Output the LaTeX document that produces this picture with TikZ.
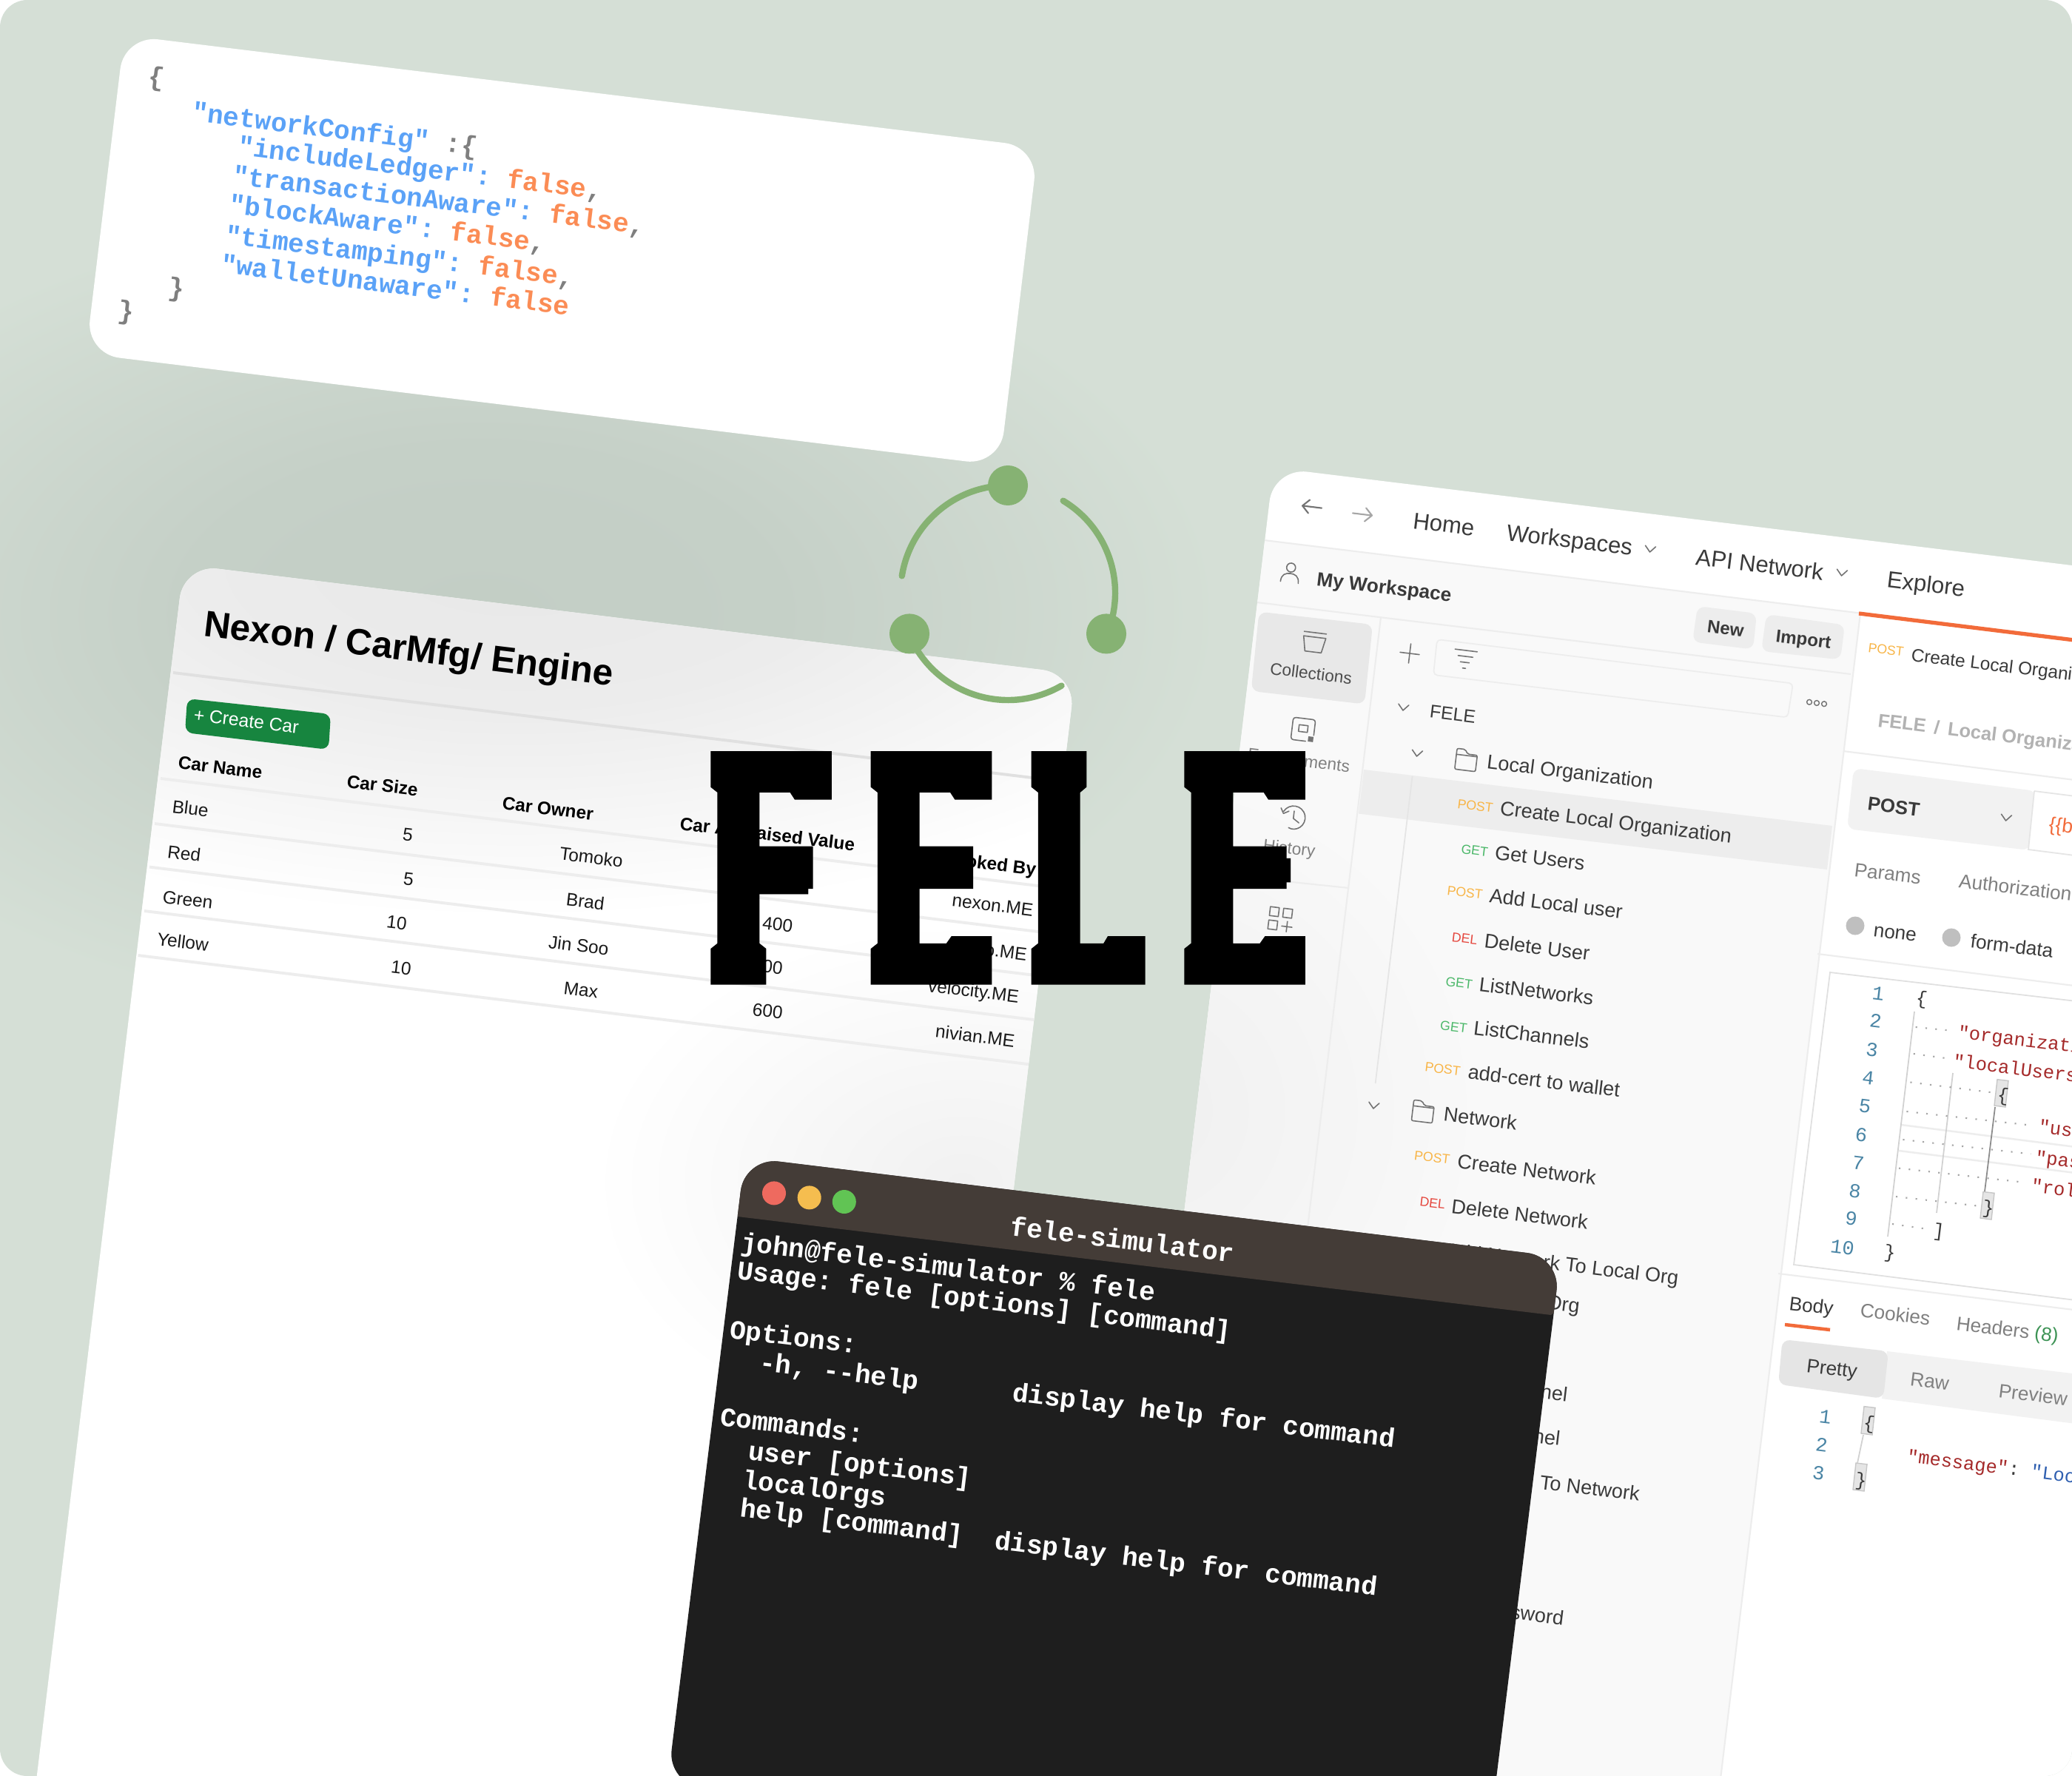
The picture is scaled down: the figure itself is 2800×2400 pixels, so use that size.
\documentclass[tikz,border=0pt]{standalone}
\usepackage{fontspec}
\setmainfont{Liberation Sans}
\setmonofont{Liberation Mono}
\definecolor{bgc}{HTML}{D5DFD6}
\definecolor{codeblue}{HTML}{5BA2F7}
\definecolor{codeorange}{HTML}{FB8C55}
\definecolor{codegray}{HTML}{7F7F7F}
\definecolor{btngreen}{HTML}{17853F}
\definecolor{leaf}{HTML}{86B273}
\definecolor{sep}{HTML}{EDEDED}
\definecolor{pmside}{HTML}{F9F9F9}
\definecolor{pmtext}{HTML}{3A3A3A}
\definecolor{pmgray}{HTML}{808080}
\definecolor{pmorange}{HTML}{F26B3A}
\definecolor{mpost}{HTML}{F8B547}
\definecolor{mget}{HTML}{4CB86A}
\definecolor{mdel}{HTML}{E5483F}
\definecolor{linenum}{HTML}{4A85A5}
\definecolor{jkey}{HTML}{A52A2A}
\definecolor{jstr}{HTML}{2F5FB0}
\definecolor{termtitle}{HTML}{443C37}
\definecolor{termbody}{HTML}{1E1E1E}
\definecolor{tlred}{HTML}{EE6A5F}
\definecolor{tlyel}{HTML}{F5BD4F}
\definecolor{tlgrn}{HTML}{61C454}
\pgfdeclareradialshading{bgblob}{\pgfpoint{0bp}{0bp}}{rgb(0bp)=(0.765,0.808,0.773); rgb(10bp)=(0.772,0.815,0.78); rgb(25bp)=(0.835,0.875,0.839); rgb(50bp)=(0.835,0.875,0.839)}
\pgfdeclareradialshading{tableblob}{\pgfpoint{0bp}{0bp}}{rgb(0bp)=(0.91,0.91,0.91); rgb(10bp)=(0.925,0.925,0.925); rgb(25bp)=(1,1,1); rgb(50bp)=(1,1,1)}
\pgfdeclareradialshading{tablelow}{\pgfpoint{0bp}{0bp}}{rgb(0bp)=(0.945,0.945,0.945); rgb(25bp)=(1,1,1); rgb(50bp)=(1,1,1)}
\pgfdeclareradialshading{sideblob}{\pgfpoint{0bp}{0bp}}{rgb(0bp)=(0.94,0.94,0.94); rgb(25bp)=(0.976,0.976,0.976); rgb(50bp)=(0.976,0.976,0.976)}
\tikzset{
  sk/.style={cm={1,-0.1224,0.12,1,(0,0)},inner sep=0pt,outer sep=0pt,anchor=base west},
  skew at/.style={cm={1,-0.1224,0.12,1,(#1)}},
  codefont/.style={font=\ttfamily\bfseries\fontsize{10.15}{12}\selectfont},
  codeb/.style={codefont,text=codeblue},
  codeo/.style={codefont,text=codeorange},
  codeg/.style={codefont,text=codegray},
  ttitle/.style={font=\bfseries\fontsize{14}{16}\selectfont,text=black},
  thead/.style={font=\bfseries\fontsize{6.9}{8}\selectfont,text=black},
  tcell/.style={font=\fontsize{6.9}{8}\selectfont,text=black!90},
  cent/.style={anchor=base},
  rgt/.style={anchor=base east},
  rowline/.style={draw=sep,line width=1.1pt},
  nav/.style={font=\fontsize{8.8}{10}\selectfont,text=pmtext},
  item/.style={font=\fontsize{7.65}{9}\selectfont,text=pmtext},
  meth/.style={font=\fontsize{5}{6}\selectfont},
  small/.style={font=\fontsize{6.4}{8}\selectfont,text=pmgray},
  pmbold/.style={font=\bfseries\fontsize{6.8}{8}\selectfont,text=pmtext},
  tab/.style={font=\fontsize{7.4}{9}\selectfont,text=pmgray},
  lnum/.style={font=\ttfamily\fontsize{7.6}{9}\selectfont,text=linenum,anchor=base},
  jk/.style={font=\ttfamily\fontsize{7.2}{9}\selectfont,text=jkey},
  jb/.style={font=\ttfamily\fontsize{7.2}{9}\selectfont,text=pmtext},
  pmsep/.style={draw=sep,line width=0.6pt},
  guide/.style={draw=black!18,line width=0.5pt},
  dots/.style={draw=black!35,line width=0.6pt,dash pattern=on 0.6pt off 3.2pt},
  bracebox/.style={fill=black!10,draw=black!22,line width=0.4pt},
  icon/.style={draw=black!55,line width=0.45pt,line cap=round,line join=round},
  term/.style={font=\ttfamily\bfseries\fontsize{10.2}{12}\selectfont,text=white},
  logoarc/.style={draw=leaf,line width=2.4pt,line cap=round},
  logodot/.style={fill=leaf,circle,minimum size=0.54cm,inner sep=0pt},
  tldot/.style={circle,minimum size=0.32cm,inner sep=0pt},
  fele/.style={fill=black}
}
\newcounter{nn}
\newcommand{\tl}[3]{\stepcounter{nn}\node[sk,#1] (n\thenn) at (#2) {#3};}
\newcommand{\chev}[1]{\begin{scope}[skew at={#1}]\draw[icon] (-7,-4)--(0,4)--(7,-4);\end{scope}}
\newcommand{\folder}[1]{\begin{scope}[skew at={#1}]\draw[icon,rounded corners=0.6pt] (-14,-14)--(-3,-14)--(1,-8)--(14,-8)--(14,14)--(-14,14)--cycle;\draw[icon] (-14,-6)--(14,-6);\end{scope}}
\begin{document}
\begin{tikzpicture}[x=0.01cm,y=-0.01cm]
\useasboundingbox (0,0) rectangle (2800,2400);
\fill[white] (0,0) rectangle (2800,2400);
\begin{scope}
\clip[rounded corners=10.5pt] (0,0) rectangle (2800,2400);
\fill[bgc] (0,0) rectangle (2800,2400);
\path[shading=bgblob] (-350,270) rectangle (1650,1390);

% ---- code card
\fill[white,rounded corners=13pt] (168,47.7)--(1403,198.7)--(1351,629)--(116,478)--cycle;
\tl{codeg}{199,115}{\{}
\tl{codeb}{258,163}{"networkConfig" \textcolor{codegray}{:\{}}
\tl{codeb}{320,209}{"includeLedger": \textcolor{codeorange}{false}\textcolor{codegray}{,}}
\tl{codeb}{313,248.5}{"transactionAware": \textcolor{codeorange}{false}\textcolor{codegray}{,}}
\tl{codeb}{308,288}{"blockAware": \textcolor{codeorange}{false}\textcolor{codegray}{,}}
\tl{codeb}{303,329}{"timestamping": \textcolor{codeorange}{false}\textcolor{codegray}{,}}
\tl{codeb}{297,368}{"walletUnaware": \textcolor{codeorange}{false}}
\tl{codeg}{226,399}{\}}
\tl{codeg}{158,430}{\}}

% ---- table card
\begin{scope}
\clip[rounded corners=13pt] (248.4,763)--(1453.4,910.7)--(1237,2711)--(30,2563)--cycle;
\fill[white] (0,700) rectangle (1500,2400);
\path[shading=tableblob] (-400,280) rectangle (1800,1240);
\path[shading=tablelow] (800,1245) rectangle (1800,1950);
\draw[draw=black!12,line width=1.1pt] (234,909)--++(1300,159);
\foreach \px/\py in {217/1052,209/1113,202/1171.6,195/1231,186.6/1291}{
  \draw[rowline] (\px,\py)--++(1300,159);}
\end{scope}
\tl{ttitle}{274,859}{Nexon / CarMfg/ Engine}
\fill[btngreen,rounded corners=3pt] (253,944)--(447,965)--(444,1013)--(250,990)--cycle;
\tl{font=\fontsize{7}{8}\selectfont,text=white}{261,974}{+ Create Car}
\tl{thead}{240,1038.5}{Car Name}
\tl{thead}{468,1064}{Car Size}
\tl{thead}{678,1093.5}{Car Owner}
\tl{thead}{918,1121}{Car Appraised Value}
\tl{thead,rgt}{1399,1183}{Invoked By}
\tl{tcell}{232,1098}{Blue}
\tl{tcell}{225.6,1159}{Red}
\tl{tcell}{219,1220}{Green}
\tl{tcell}{211.5,1277}{Yellow}
\tl{tcell,cent}{550,1136}{5}
\tl{tcell,cent}{551,1196}{5}
\tl{tcell,cent}{535,1255}{10}
\tl{tcell,cent}{541,1316}{10}
\tl{tcell,cent}{798,1167}{Tomoko}
\tl{tcell,cent}{790,1227}{Brad}
\tl{tcell,cent}{781,1286}{Jin Soo}
\tl{tcell,cent}{784,1346}{Max}
\tl{tcell,rgt}{1070,1260}{400}
\tl{tcell,rgt}{1056.5,1317}{00}
\tl{tcell,rgt}{1056.5,1377}{600}
\tl{tcell,rgt}{1395,1238}{nexon.ME}
\tl{tcell,rgt}{1386.5,1298}{o.ME}
\tl{tcell,rgt}{1375.7,1355}{velocity.ME}
\tl{tcell,rgt}{1370,1415}{nivian.ME}

% ---- postman card
\begin{scope}
\clip[rounded corners=13pt] (1721,632)--(3200,813)--(2960,2813)--(1481,2632)--cycle;
\fill[white] (1400,600) rectangle (2800,2400);
\fill[pmside] (1708.6,730)--(2514,828.6)--(2274,2828.6)--(1468.6,2730)--cycle;
\begin{scope}
\clip (1708.6,730)--(2514,828.6)--(2274,2828.6)--(1468.6,2730)--cycle;
\path[shading=sideblob] (1100,1050) rectangle (2000,1950);
\end{scope}
\draw[pmsep] (1708.6,730)--(2514,828.6);
\draw[pmsep] (1690,813)--(2501,911);
\draw[pmsep] (2514,828.6)--(2274,2828.6);
\draw[pmsep] (1866,834)--(1626,2834);
\draw[pmsep] (1660,1183)--(1823,1200);
\draw[pmsep] (2491,1015)--(2900,1066);
\draw[pmsep] (2456,1289)--(2900,1344);
\draw[draw=pmorange,line width=1.5pt] (2512,829)--(2900,877);
% collections box
\fill[black!9,rounded corners=3pt] (1701.4,826.6)--(1855,844)--(1844,951.6)--(1690.7,933.8)--cycle;
% highlighted row
\fill[black!7] (1843,1040)--(2476,1116)--(2469,1175)--(1836,1099.6)--cycle;
\draw[draw=black!10,line width=0.5pt] (1908.6,1048.6)--(1858.6,1464);
% new, import
\fill[black!7,rounded corners=3pt] (2294,819)--(2374,829)--(2369,877.6)--(2287,867.4)--cycle;
\fill[black!7,rounded corners=3pt] (2387,830)--(2493,844.5)--(2487,891.4)--(2380,880)--cycle;
% search
\draw[draw=sep,line width=0.5pt,rounded corners=1.5pt] (1942,864)--(2423,923.6)--(2415.7,969.5)--(1937,912)--cycle;
% post box
\fill[black!5,rounded corners=3pt] (2505,1038)--(2752,1069)--(2743,1149)--(2496,1120)--cycle;
\fill[white] (2749,1069)--(2900,1088)--(2890,1168)--(2741,1148)--cycle;
\draw[draw=black!10,line width=0.5pt] (2749,1069)--(2900,1088) (2749,1069)--(2741,1148)--(2890,1167);
% radios
\fill[black!25] (2507,1251) circle (12.5);
\fill[black!25] (2637,1267) circle (12.5);
% editor box
\draw[draw=black!12,line width=0.5pt] (2900,1364)--(2473,1314)--(2424,1709)--(2900,1769);
\draw[pmsep] (2403,1721)--(2900,1782);
\draw[pmsep,line width=0.7pt] (2569,1520)--(2900,1562);
\draw[pmsep,line width=0.7pt] (2566,1555)--(2900,1597);
% guides
\draw[guide] (2587,1367)--(2551,1671);
\draw[guide] (2639,1450)--(2617,1639);
\draw[draw=black!45,line width=0.5pt] (2696,1496)--(2682,1610);
\draw[dots] (2588.6,1388)--(2640.7,1393);
\draw[dots] (2585.7,1424)--(2637,1431);
\draw[dots] (2581.4,1462.5)--(2694,1476.5);
\draw[dots] (2576.4,1502)--(2748,1521);
\draw[dots] (2571.4,1540)--(2744.3,1559.4);
\draw[dots] (2566,1578.6)--(2737,1598);
\draw[dots] (2562,1617)--(2676.4,1630);
\draw[dots] (2557,1654)--(2609,1661.5);
\fill[bracebox] (2699,1458.7)--(2714,1460.5)--(2710,1496)--(2695,1494)--cycle;
\fill[bracebox] (2680,1610.5)--(2695,1612.3)--(2691,1648)--(2676,1646)--cycle;
\fill[bracebox] (2519,1900.6)--(2534,1902.4)--(2530,1939)--(2515,1937)--cycle;
\fill[bracebox] (2508,1977)--(2523,1978.8)--(2519,2015)--(2504,2013)--cycle;
\draw[guide] (2518,1939)--(2510,1977);
% pretty bar
\fill[black!5] (2550,1826)--(2900,1868)--(2890,1935)--(2543,1890)--cycle;
\fill[black!10,rounded corners=3pt] (2408.6,1810)--(2552,1826)--(2545,1890)--(2403,1870.7)--cycle;
\draw[draw=pmorange,line width=1.3pt] (2412,1790)--(2473,1797);
\end{scope}
% nav icons
\begin{scope}[skew at={1773,685}]
\draw[icon,line width=0.6pt] (13,0)--(-13,0) (-4,-9)--(-13,0)--(-4,9);
\end{scope}
\begin{scope}[skew at={1841,695}]
\draw[icon,draw=black!35,line width=0.6pt] (-13,0)--(13,0) (4,-9)--(13,0)--(4,9);
\end{scope}
\tl{nav}{1908.6,714}{Home}
\tl{nav}{2035,730}{Workspaces}
\chev{2230,742}
\tl{nav}{2290.7,763}{API Network}
\chev{2489,774}
\tl{nav}{2549,793.5}{Explore}
\begin{scope}[skew at={1744,773}]
\draw[icon] (0,-6) circle (6);
\draw[icon] (-12,14) .. controls (-12,4) and (-6,2) .. (0,2) .. controls (6,2) and (12,4) .. (12,14);
\end{scope}
\tl{font=\bfseries\fontsize{7.4}{9}\selectfont,text=pmtext}{1778.6,791}{My Workspace}
% side icons
\begin{scope}[skew at={1776,867}]
\draw[icon] (-15,-12)--(15,-12);
\draw[icon] (-15,-6)--(15,-6)--(11,14)--(-11,14)--cycle;
\end{scope}
\tl{small,text=black!70}{1715.7,911}{Collections}
\begin{scope}[skew at={1761,986}]
\draw[icon,rounded corners=1pt] (15,6)--(15,-15)--(-15,-15)--(-15,15)--(5,15);
\draw[icon] (-6,-6) rectangle (6,3);
\fill[black!55] (8,8) rectangle (15,15);
\end{scope}
\tl{small,rgt}{1823,1043.5}{Environments}
\begin{scope}[skew at={1748,1104}]
\draw[icon] (-14,-6) .. controls (-8,-18) and (10,-18) .. (15,-4) .. controls (19,10) and (5,20) .. (-5,15) ;
\draw[icon] (0,-8)--(0,2)--(8,7);
\draw[icon] (-18,-10)--(-14,-3)--(-7,-7);
\end{scope}
\tl{small,rgt}{1776.4,1158}{History}
\begin{scope}[skew at={1730,1242}]
\draw[icon] (-15,-15) rectangle (-3,-3);
\draw[icon] (3,-15) rectangle (15,-3);
\draw[icon] (-15,3) rectangle (-3,15);
\draw[icon] (3,9)--(17,9) (10,2)--(10,16);
\end{scope}
\tl{pmbold}{2306.4,854.7}{New}
\tl{pmbold}{2399,867.4}{Import}
\begin{scope}[skew at={1905,883}]
\draw[icon] (-13,0)--(13,0) (0,-13)--(0,13);
\end{scope}
\begin{scope}[skew at={1980,890}]
\draw[icon] (-15,-11)--(15,-11) (-10,-3)--(10,-3) (-6,5)--(6,5) (-2,13)--(2,13);
\end{scope}
\begin{scope}[skew at={2455,950}]
\draw[icon,line width=0.4pt] (-10,0) circle (3.4) (0,0) circle (3.4) (10,0) circle (3.4);
\end{scope}
\chev{1896.4,956}
\tl{item,font=\fontsize{7}{9}\selectfont}{1931.4,969.5}{FELE}
\chev{1915,1018}
\folder{1981.4,1027}
\tl{item}{2008.6,1038.4}{Local Organization}
\tl{meth,text=mpost}{1969,1092}{POST}
\tl{item}{2026.4,1101}{Create Local Organization}
\tl{meth,text=mget}{1974,1153}{GET}
\tl{item}{2019.3,1161}{Get Users}
\tl{meth,text=mpost}{1955,1209}{POST}
\tl{item}{2012,1219.5}{Add Local user}
\tl{meth,text=mdel}{1961.4,1272}{DEL}
\tl{item}{2005,1280.7}{Delete User}
\tl{meth,text=mget}{1953,1332}{GET}
\tl{item}{1998,1339.4}{ListNetworks}
\tl{meth,text=mget}{1945.7,1391.4}{GET}
\tl{item}{1990.7,1398}{ListChannels}
\tl{meth,text=mpost}{1925,1447.8}{POST}
\tl{item}{1983,1457.4}{add-cert to wallet}
\chev{1856.4,1494}
\folder{1923,1502}
\tl{item}{1950,1514.8}{Network}
\tl{meth,text=mpost}{1910.7,1567}{POST}
\tl{item}{1968.6,1578.6}{Create Network}
\tl{meth,text=mdel}{1918,1629.6}{DEL}
\tl{item}{1960.7,1639}{Delete Network}
\tl{meth,text=mpost}{1896,1687}{POST}
\tl{item}{1953,1698}{Add Network To Local Org}
\tl{item,rgt}{2133.6,1774}{Org}
\tl{item,rgt}{2117,1894}{Channel}
\tl{item,rgt}{2107,1953.6}{Channel}
\tl{item}{2080,2012}{To Network}
\tl{item,rgt}{2112,2196}{Password}
% right pane
\tl{meth,text=mpost}{2524,881}{POST}
\tl{item,font=\fontsize{6.9}{9}\selectfont}{2582,893}{Create Local Organization}
\tl{font=\bfseries\fontsize{7.2}{9}\selectfont,text=black!30}{2537,982}{FELE \,/\, Local Organization}
\tl{pmbold,font=\bfseries\fontsize{7.3}{9}\selectfont}{2523,1094.5}{POST}
\chev{2711,1105}
\tl{font=\fontsize{7.5}{9}\selectfont,text=pmorange}{2768,1122.5}{\{\{baseUrl\}\}}
\tl{tab}{2505,1184}{Params}
\tl{tab}{2646.4,1199}{Authorization}
\tl{tab,text=pmtext}{2531,1265.4}{none}
\tl{tab,text=pmtext}{2662,1280.7}{form-data}
\tl{lnum}{2537,1351}{1}
\tl{lnum}{2533.6,1388}{2}
\tl{lnum}{2528.6,1427}{3}
\tl{lnum}{2523.6,1465}{4}
\tl{lnum}{2519,1503}{5}
\tl{lnum}{2514,1542}{6}
\tl{lnum}{2510,1580}{7}
\tl{lnum}{2505.7,1618}{8}
\tl{lnum}{2500.7,1655}{9}
\tl{lnum}{2488.6,1694}{10}
\tl{jb,anchor=base}{2596,1357}{\{}
\tl{jk}{2645,1403}{"organization"}
\tl{jk}{2638.6,1442}{"localUsers"}
\tl{jb,anchor=base}{2706,1488}{\{}
\tl{jk}{2754,1530.7}{"username"}
\tl{jk}{2749.5,1572}{"password"}
\tl{jk}{2744,1610.5}{"role"}
\tl{jb,anchor=base}{2686,1640}{\}}
\tl{jb,anchor=base}{2619,1671}{]}
\tl{jb,anchor=base}{2553,1700}{\}}
\tl{tab,text=pmtext}{2417,1770}{Body}
\tl{tab}{2513,1779.5}{Cookies}
\tl{tab}{2643,1797}{Headers \textcolor{mget!80!black}{(8)}}
\tl{tab,text=pmtext}{2440.7,1854}{Pretty}
\tl{tab}{2580.7,1872}{Raw}
\tl{tab}{2700,1888}{Preview}
\tl{lnum}{2465.7,1923}{1}
\tl{lnum}{2460.7,1961}{2}
\tl{lnum}{2456.4,1999.5}{3}
\tl{jb,anchor=base}{2525,1931}{\{}
\tl{jb,anchor=base}{2514,2008}{\}}
\tl{jk}{2576.4,1976}{"message"\textcolor{pmtext}{:} \textcolor{jstr}{"Local}}

% ---- logo
\node[logodot] (ltop) at (1362,656) {};
\node[logodot] (lleft) at (1229,856.4) {};
\node[logodot] (lright) at (1495,856.4) {};
\begin{scope}[shift={(1362,801)},x=0.01cm,y=0.01cm]
\draw[logoarc] (90:145) arc[start angle=90,end angle=171,radius=145];
\draw[logoarc] (59:145) arc[start angle=59,end angle=-30,radius=145];
\draw[logoarc] (210:145) arc[start angle=210,end angle=300,radius=145];
\end{scope}

% ---- terminal
\fill[termbody,rounded corners=13pt] (1006.5,1564)--(2109,1698.6)--(2004.5,2544.6)--(902,2410)--cycle;
\begin{scope}
\clip[rounded corners=13pt] (1006.5,1564)--(2109,1698.6)--(2004.5,2544.6)--(902,2410)--cycle;
\fill[termtitle] (990,1550)--(2200,1697)--(2095.8,1777)--(997,1644)--cycle;
\end{scope}
\node[tldot,fill=tlred] (tred) at (1046,1612.4) {};
\node[tldot,fill=tlyel] (tyel) at (1093.7,1618.4) {};
\node[tldot,fill=tlgrn] (tgrn) at (1140.8,1624) {};
\tl{term}{1364.8,1669}{fele-simulator}
\tl{term}{1000,1690}{john@fele-simulator \% fele}
\tl{term}{995,1728}{Usage: fele [options] [command]}
\tl{term}{985,1808}{Options:}
\tl{term}{1025,1852}{-h, --help}
\tl{term}{1367,1893}{display help for command}
\tl{term}{972,1926}{Commands:}
\tl{term}{1010,1972}{user [options]}
\tl{term}{1002,2011}{localOrgs}
\tl{term}{999,2049}{help [command]}
\tl{term}{1343,2093}{display help for command}

% ---- FELE
\node[anchor=base west,inner sep=0pt,xscale=0.58,font=\fontsize{123}{123}\selectfont,text=black] (fele) at (952,1329.5) {\makebox[105.9pt][l]{F}\makebox[105.9pt][l]{E}\makebox[105.9pt][l]{L}\makebox[105.9pt][l]{E}};
\begin{scope}[shift={(900,600)},x=0.00574cm,y=-0.004847cm]
\fill[fele] (105,855)--(390,855)--(390,990)--(303,990)--(292,970)--(220,970)--(220,1120)--(346,1120)--(346,1238)--(220,1238)--(220,1390)--(236,1405)--(236,1505)--(105,1505)--(105,1405)--(121,1390)--(121,970)--(105,955)--cycle;
\fill[fele] (482,855)--(767,855)--(767,990)--(680,990)--(669,970)--(597,970)--(597,1120)--(723,1120)--(723,1238)--(597,1238)--(597,1390)--(660,1390)--(672,1370)--(767,1370)--(767,1505)--(482,1505)--(482,1405)--(498,1390)--(498,970)--(482,955)--cycle;
\fill[fele] (860,855)--(990,855)--(990,955)--(975,970)--(975,1390)--(1030,1390)--(1040,1370)--(1128,1370)--(1128,1505)--(860,1505)--(860,1405)--(876,1390)--(876,970)--(860,955)--cycle;
\fill[fele] (1220,855)--(1505,855)--(1505,990)--(1418,990)--(1407,970)--(1335,970)--(1335,1120)--(1461,1120)--(1461,1238)--(1335,1238)--(1335,1390)--(1398,1390)--(1410,1370)--(1505,1370)--(1505,1505)--(1220,1505)--(1220,1405)--(1236,1390)--(1236,970)--(1220,955)--cycle;
\end{scope}
\end{scope}
\end{tikzpicture}
\end{document}
